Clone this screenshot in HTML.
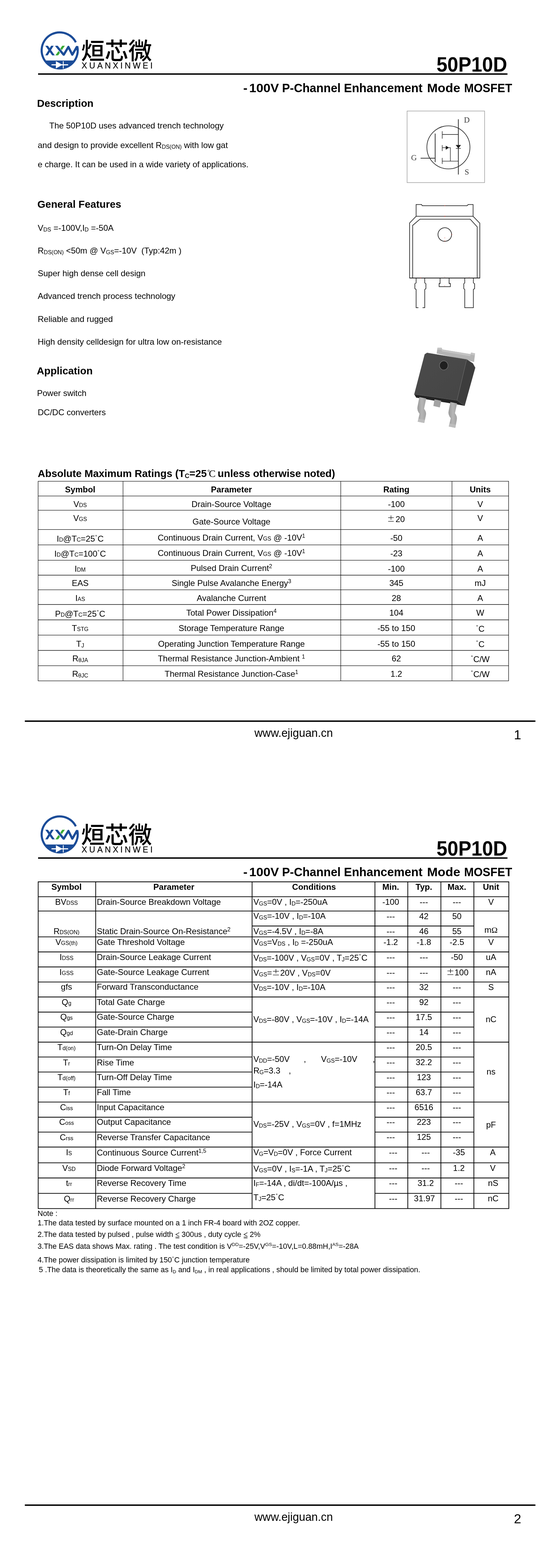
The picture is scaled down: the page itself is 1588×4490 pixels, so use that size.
<!DOCTYPE html>
<html lang="en"><head><meta charset="utf-8"><title>50P10D -100V P-Channel Enhancement Mode MOSFET</title>
<style>
html,body{margin:0;padding:0;background:#fff}
html{width:1588px;height:4490px}
::-webkit-scrollbar{display:none}
body{width:1588px;height:4490px;position:relative;overflow:hidden;font-family:"Liberation Sans",sans-serif;color:#000}
.t{position:absolute;line-height:1;white-space:nowrap}
.b{font-weight:bold}
.ln{position:absolute}
svg{position:absolute;overflow:visible}
.dg{font-size:16px;position:relative;top:-6px;margin:0 1px}
.lo{font-size:16px;position:relative;top:1.5px}
.i{position:static;display:inline-block}
main{position:absolute;left:0;top:0;width:1588px;height:4490px;will-change:transform}
</style></head><body><main>
<svg style="left:110px;top:84px" width="130" height="120" viewBox="0 0 911 841">
<defs><clipPath id="cl0"><rect x="0" y="330" width="911" height="200"/></clipPath></defs>
<path d="M749.4 260.3 A362 362 0 1 0 777.8 337.9" fill="none" stroke="#1b4c98" stroke-width="42"/>
<path d="M136 625 L716 625 A362 362 0 0 1 136 625 Z" fill="#1b4c98"/>
<g clip-path="url(#cl0)">
<polygon points="137,330 190,330 328,522 275,522" fill="#1b4c98"/>
<polygon points="255,330 305,330 187,522 137,522" fill="#1b4c98"/>
<polygon points="478,330 530,330 395,522 340,522" fill="#3aaa35"/>
<path d="M338 310L506 511" fill="none" stroke="#fff" stroke-width="62"/>
</g>
<path d="M352 322L506.7 511 600.6 353 679 510 768 355 787 420" fill="none" stroke="#1b4c98" stroke-width="45" stroke-linejoin="round" clip-path="url(#cl0)"/>
<rect x="262" y="701" width="333" height="22" fill="#fff"/>
<polygon points="350,640 350,785 482,712" fill="#fff"/>
<rect x="490" y="640" width="16" height="145" fill="#fff"/>
</svg>
<svg style="left:0;top:0" width="1" height="1"><text x="232" y="169.9" font-family="'Liberation Sans','Noto Sans CJK SC',sans-serif" font-size="67.6" font-weight="500" fill="#000" textLength="203" lengthAdjust="spacingAndGlyphs">烜芯微</text></svg>
<div class="t" style="left:233.5px;top:177px;font-size:23.5px;letter-spacing:6.02px;-webkit-text-stroke:.3px #000">XUANXINWEI</div>
<div class="ln" style="left:109px;top:210px;width:1343px;height:4px;background:#000"></div>
<div class="t b" style="left:1248.85px;top:156px;font-size:59px;transform-origin:0 0;transform:scaleX(0.9477);">50P10D</div>
<div class="t b" style="left:696.48px;top:235px;font-size:35.5px;transform-origin:0 0;transform:scaleX(1.0200);">-</div>
<div class="t b" style="left:713.45px;top:235px;font-size:35.5px;transform-origin:0 0;transform:scaleX(1.0267);">100V</div>
<div class="t b" style="left:807.19px;top:235px;font-size:35.5px;transform-origin:0 0;transform:scaleX(0.9553);">P-Channel</div>
<div class="t b" style="left:984.07px;top:235px;font-size:35.5px;transform-origin:0 0;transform:scaleX(0.9664);">Enhancement</div>
<div class="t b" style="left:1221.75px;top:235px;font-size:35.5px;transform-origin:0 0;transform:scaleX(1.0240);">Mode</div>
<div class="t b" style="left:1327.74px;top:235px;font-size:35.5px;transform-origin:0 0;transform:scaleX(0.9287);">MOSFET</div>
<div class="t b" style="left:106px;top:281px;font-size:29.36px;">Description</div>
<div class="t" style="left:141px;top:348px;font-size:24px;">The 50P10D uses advanced trench technology</div>
<div class="t" style="left:108px;top:404px;font-size:24px;">and design to provide excellent R<span style="font-size:16px;position:relative;top:1.5px">DS(ON)</span> with low gat</div>
<div class="t" style="left:108px;top:459px;font-size:24px;">e charge. It can be used in a wide variety of applications.</div>
<div class="t b" style="left:107px;top:570px;font-size:29.36px;">General Features</div>
<div class="t" style="left:108px;top:641px;font-size:24px;">V<span style="font-size:16px;position:relative;top:1.5px">DS</span> =-100V,I<span style="font-size:16px;position:relative;top:1.5px">D</span> =-50A</div>
<div class="t" style="left:108px;top:706px;font-size:24px;">R<span style="font-size:16px;position:relative;top:1.5px">DS(ON)</span> &lt;50m @ V<span style="font-size:16px;position:relative;top:1.5px">GS</span>=-10V&nbsp; (Typ:42m )</div>
<div class="t" style="left:108px;top:771px;font-size:24px;">Super high dense cell design</div>
<div class="t" style="left:108px;top:836px;font-size:24px;">Advanced trench process technology</div>
<div class="t" style="left:108px;top:902px;font-size:24px;">Reliable and rugged</div>
<div class="t" style="left:108px;top:967px;font-size:24px;">High density celldesign for ultra low on-resistance</div>
<div class="t b" style="left:105.3px;top:1047px;font-size:29.36px;">Application</div>
<div class="t" style="left:106px;top:1114px;font-size:24px;">Power switch</div>
<div class="t" style="left:108px;top:1169px;font-size:24px;">DC/DC converters</div>
<svg style="left:1160px;top:310px" width="240" height="220" viewBox="0 0 911 835">
<rect x="18" y="30" width="842" height="778" fill="#fff" stroke="#8c8c8c" stroke-width="5"/>
<g fill="none" stroke="#2a2a2a" stroke-width="8">
<circle cx="467" cy="425" r="234" stroke-width="7"/>
<path d="M575 120V720M323 275V585M165 543H323"/>
<path d="M400 250V330M400 400V465M400 540V605M400 285H575M400 575H575M400 428H440M470 428H488V575" stroke-width="6"/>
<path d="M548 437H602" stroke-width="6"/>
</g>
<polygon points="438,407 438,451 474,428" fill="#1a1a1a"/>
<polygon points="546,399 604,399 575,436" fill="#1a1a1a"/>
<g font-family="Liberation Serif,serif" font-size="86" fill="#3a3a3a"><text x="636" y="155">D</text><text x="62" y="565">G</text><text x="643" y="722">S</text></g>
</svg>
<svg style="left:1150px;top:570px" width="250" height="340" viewBox="0 0 911 1239">
<g fill="none" stroke="#1c1c1c" stroke-width="6.5" stroke-linejoin="miter">
<path d="M148 180V57H205L212 70H680L690 57H742V180"/>
<path d="M148 180H742" stroke-width="7"/>
<path d="M148 180L95 235 80 250V824M742 180L800 240 812 252V824"/>
<path d="M112 824V275L188 210H712L785 290V824"/>
<path d="M78 824H815" stroke-width="9"/>
<circle cx="447" cy="370" r="71"/>
<path d="M148 824V874L135 884V934L148 944V1134H172M215 1134H238V944L250 934V884L238 874V824"/>
<path d="M398 824V881H388V914H505V881H492V824"/>
<path d="M655 824V874L645 884V934L655 944V1134H745V944L758 934V884L745 874V824"/>
</g>
<g fill="#c0392b"><circle cx="447" cy="70" r="4"/><circle cx="447" cy="180" r="5"/><circle cx="520" cy="370" r="4"/><circle cx="447" cy="405" r="3"/><circle cx="447" cy="438" r="4"/><circle cx="195" cy="822" r="4"/><circle cx="447" cy="812" r="3"/><circle cx="700" cy="812" r="3"/><circle cx="447" cy="905" r="3"/></g>
</svg>
<svg style="left:1170px;top:980px" width="230" height="260" viewBox="0 0 911 1030">
<defs><linearGradient id="gf" x1="0" y1="0" x2="1" y2="1"><stop offset="0" stop-color="#4b4b4b"/><stop offset="1" stop-color="#454545"/></linearGradient>
<linearGradient id="gl" x1="0" y1="0" x2="1" y2="0"><stop offset="0" stop-color="#9a9a9a"/><stop offset=".5" stop-color="#b6b6b6"/><stop offset="1" stop-color="#a2a2a2"/></linearGradient></defs>
<polygon points="314,128 324,62 370,62 380,82 698,135 705,117 750,127 738,225 650,200" fill="#b3b3b3"/>
<polygon points="324,62 370,62 380,82 698,135 705,117 750,127 747,150 700,140 694,158 376,104 368,84 322,84" fill="#c4c4c4"/>
<polygon points="60,590 545,660 632,722 560,708 82,628" fill="#242424"/>
<path d="M118 622 L196 638 L172 755 Q202 790 192 832 L174 916 L100 901 L120 812 Q88 772 98 728 Z" fill="url(#gl)"/>
<polygon points="290,648 366,664 350,740 277,723" fill="#a3a3a3"/>
<path d="M470 678 L546 694 L522 805 Q552 842 542 885 L526 972 L452 956 L474 862 Q440 822 450 780 Z" fill="url(#gl)"/>
<polygon points="100,901 174,916 180,880 108,866" fill="#bdbdbd"/><polygon points="452,956 526,972 532,936 460,920" fill="#bdbdbd"/>
<polygon points="655,195 725,240 752,290 632,722 545,660" fill="#3d3d3d"/>
<polygon points="205,120 655,195 545,660 60,590 178,138" fill="url(#gf)"/>
<path d="M178 138 L205 120 L655 195 L545 660" fill="none" stroke="#747474" stroke-width="3"/>
<path d="M655 195 L725 240 L752 290" fill="none" stroke="#5e5e5e" stroke-width="3"/>
<path d="M60 590 L545 660 L632 722" fill="none" stroke="#5a5a5a" stroke-width="3"/>
<ellipse cx="395" cy="263" rx="48" ry="51" fill="#202020" stroke="#8e8e8e" stroke-width="4"/>
</svg>
<div class="t b" style="left:108px;top:1341px;font-size:29.36px;">Absolute Maximum Ratings (T<span style="font-size:18px;position:relative;top:3px">C</span>=25<svg class="i" style="vertical-align:-1px;margin:0 5.5px 0 2.6px" width="23" height="22" viewBox="0 0 23 22"><circle cx="2.9" cy="2.9" r="2.3" fill="none" stroke="#000" stroke-width="1"/><text x="3.6" y="21" font-family="Liberation Serif,serif" font-size="29" font-weight="normal">C</text></svg>unless otherwise noted)</div>
<svg style="left:0;top:0" width="1588" height="4490"><path d="M109.1 1378.1L1455.3 1378.1M109.1 1420.3L1455.3 1420.3M109.1 1461.1L1455.3 1461.1M109.1 1516.4L1455.3 1516.4M109.1 1560.4L1455.3 1560.4M109.1 1604.3L1455.3 1604.3M109.1 1647.0L1455.3 1647.0M109.1 1688.8L1455.3 1688.8M109.1 1731.0L1455.3 1731.0M109.1 1775.0L1455.3 1775.0M109.1 1818.6L1455.3 1818.6M109.1 1862.5L1455.3 1862.5M109.1 1906.4L1455.3 1906.4M109.1 1949.6L1455.3 1949.6M109.1 1377.5L109.1 1950.2M352.0 1377.5L352.0 1950.2M975.0 1377.5L975.0 1950.2M1293.3 1377.5L1293.3 1950.2M1455.3 1377.5L1455.3 1950.2" fill="none" stroke="#000" stroke-width="1.3"/></svg>
<div class="t b" style="left:229.4px;transform:translateX(-50%);top:1390px;font-size:24px;">Symbol</div>
<div class="t b" style="left:662.2px;transform:translateX(-50%);top:1390px;font-size:24px;">Parameter</div>
<div class="t b" style="left:1134px;transform:translateX(-50%);top:1390px;font-size:24px;">Rating</div>
<div class="t b" style="left:1374px;transform:translateX(-50%);top:1390px;font-size:24px;">Units</div>
<div class="t" style="left:229.4px;transform:translateX(-50%);top:1432px;font-size:24px;">V<span style="font-size:16px">DS</span></div>
<div class="t" style="left:662.2px;transform:translateX(-50%);top:1432px;font-size:24px;">Drain-Source Voltage</div>
<div class="t" style="left:1134px;transform:translateX(-50%);top:1432px;font-size:24px;">-100</div>
<div class="t" style="left:1374px;transform:translateX(-50%);top:1432px;font-size:24px;">V</div>
<div class="t" style="left:229.4px;transform:translateX(-50%);top:1472px;font-size:24px;">V<span style="font-size:16px">GS</span></div>
<div class="t" style="left:662.2px;transform:translateX(-50%);top:1482px;font-size:24px;">Gate-Source Voltage</div>
<div class="t" style="left:1134px;transform:translateX(-50%);top:1475px;font-size:24px;"><svg class="i" style="vertical-align:1.5px;margin:0 5px 0 1px" width="16" height="18" viewBox="0 0 16 18"><path d="M8 0V12.6M0 6.3H16M0 16.9H16" stroke="#000" stroke-width="1.3" fill="none"/></svg>20</div>
<div class="t" style="left:1374px;transform:translateX(-50%);top:1472px;font-size:24px;">V</div>
<div class="t" style="left:229.4px;transform:translateX(-50%);top:1531px;font-size:24px;">I<span style="font-size:16px">D</span>@T<span style="font-size:16px">C</span>=25<span class="dg">˚</span>C</div>
<div class="t" style="left:662.2px;transform:translateX(-50%);top:1528px;font-size:24px;">Continuous Drain Current, V<span style="font-size:16px">GS</span> @ -10V<span style="font-size:16px;position:relative;top:-8px">1</span></div>
<div class="t" style="left:1134px;transform:translateX(-50%);top:1529px;font-size:24px;">-50</div>
<div class="t" style="left:1374px;transform:translateX(-50%);top:1529px;font-size:24px;">A</div>
<div class="t" style="left:229.4px;transform:translateX(-50%);top:1574px;font-size:24px;">I<span style="font-size:16px">D</span>@T<span style="font-size:16px">C</span>=100<span class="dg">˚</span>C</div>
<div class="t" style="left:662.2px;transform:translateX(-50%);top:1572px;font-size:24px;">Continuous Drain Current, V<span style="font-size:16px">GS</span> @ -10V<span style="font-size:16px;position:relative;top:-8px">1</span></div>
<div class="t" style="left:1134px;transform:translateX(-50%);top:1573px;font-size:24px;">-23</div>
<div class="t" style="left:1374px;transform:translateX(-50%);top:1573px;font-size:24px;">A</div>
<div class="t" style="left:229.4px;transform:translateX(-50%);top:1617px;font-size:24px;">I<span style="font-size:16px">DM</span></div>
<div class="t" style="left:662.2px;transform:translateX(-50%);top:1615px;font-size:24px;">Pulsed Drain Current<span style="font-size:16px;position:relative;top:-8px">2</span></div>
<div class="t" style="left:1134px;transform:translateX(-50%);top:1617px;font-size:24px;">-100</div>
<div class="t" style="left:1374px;transform:translateX(-50%);top:1617px;font-size:24px;">A</div>
<div class="t" style="left:229.4px;transform:translateX(-50%);top:1658px;font-size:24px;">EAS</div>
<div class="t" style="left:662.2px;transform:translateX(-50%);top:1658px;font-size:24px;">Single Pulse Avalanche Energy<span style="font-size:16px;position:relative;top:-8px">3</span></div>
<div class="t" style="left:1134px;transform:translateX(-50%);top:1658px;font-size:24px;">345</div>
<div class="t" style="left:1374px;transform:translateX(-50%);top:1658px;font-size:24px;">mJ</div>
<div class="t" style="left:229.4px;transform:translateX(-50%);top:1701px;font-size:24px;">I<span style="font-size:16px">AS</span></div>
<div class="t" style="left:662.2px;transform:translateX(-50%);top:1701px;font-size:24px;">Avalanche Current</div>
<div class="t" style="left:1134px;transform:translateX(-50%);top:1701px;font-size:24px;">28</div>
<div class="t" style="left:1374px;transform:translateX(-50%);top:1701px;font-size:24px;">A</div>
<div class="t" style="left:229.4px;transform:translateX(-50%);top:1746px;font-size:24px;">P<span style="font-size:16px">D</span>@T<span style="font-size:16px">C</span>=25<span class="dg">˚</span>C</div>
<div class="t" style="left:662.2px;transform:translateX(-50%);top:1743px;font-size:24px;">Total Power Dissipation<span style="font-size:16px;position:relative;top:-8px">4</span></div>
<div class="t" style="left:1134px;transform:translateX(-50%);top:1743px;font-size:24px;">104</div>
<div class="t" style="left:1374px;transform:translateX(-50%);top:1743px;font-size:24px;">W</div>
<div class="t" style="left:229.4px;transform:translateX(-50%);top:1787px;font-size:24px;">T<span style="font-size:16px">STG</span></div>
<div class="t" style="left:662.2px;transform:translateX(-50%);top:1787px;font-size:24px;">Storage Temperature Range</div>
<div class="t" style="left:1134px;transform:translateX(-50%);top:1787px;font-size:24px;">-55 to 150</div>
<div class="t" style="left:1374px;transform:translateX(-50%);top:1789px;font-size:24px;"><span class="dg">˚</span>C</div>
<div class="t" style="left:229.4px;transform:translateX(-50%);top:1832px;font-size:24px;">T<span style="font-size:16px;position:relative;top:2px">J</span></div>
<div class="t" style="left:662.2px;transform:translateX(-50%);top:1832px;font-size:24px;">Operating Junction Temperature Range</div>
<div class="t" style="left:1134px;transform:translateX(-50%);top:1832px;font-size:24px;">-55 to 150</div>
<div class="t" style="left:1374px;transform:translateX(-50%);top:1833px;font-size:24px;"><span class="dg">˚</span>C</div>
<div class="t" style="left:229.4px;transform:translateX(-50%);top:1874px;font-size:24px;">R<span style="font-size:16px;position:relative;top:1.5px">θJA</span></div>
<div class="t" style="left:662.2px;transform:translateX(-50%);top:1874px;font-size:24px;">Thermal Resistance Junction-Ambient <span style="font-size:16px;position:relative;top:-8px">1</span></div>
<div class="t" style="left:1134px;transform:translateX(-50%);top:1874px;font-size:24px;">62</div>
<div class="t" style="left:1374px;transform:translateX(-50%);top:1876px;font-size:24px;"><span class="dg">˚</span>C/W</div>
<div class="t" style="left:229.4px;transform:translateX(-50%);top:1918px;font-size:24px;">R<span style="font-size:16px;position:relative;top:1.5px">θJC</span></div>
<div class="t" style="left:662.2px;transform:translateX(-50%);top:1918px;font-size:24px;">Thermal Resistance Junction-Case<span style="font-size:16px;position:relative;top:-8px">1</span></div>
<div class="t" style="left:1134px;transform:translateX(-50%);top:1918px;font-size:24px;">1.2</div>
<div class="t" style="left:1374px;transform:translateX(-50%);top:1919px;font-size:24px;"><span class="dg">˚</span>C/W</div>
<div class="ln" style="left:71px;top:2063px;width:1461px;height:4px;background:#000"></div>
<div class="t" style="left:728px;top:2083px;font-size:32.3px;">www.ejiguan.cn</div>
<div class="t" style="left:1470.5px;top:2086px;font-size:37.4px;">1</div>
<svg style="left:110px;top:2329px" width="130" height="120" viewBox="0 0 911 841">
<defs><clipPath id="cl2245"><rect x="0" y="330" width="911" height="200"/></clipPath></defs>
<path d="M749.4 260.3 A362 362 0 1 0 777.8 337.9" fill="none" stroke="#1b4c98" stroke-width="42"/>
<path d="M136 625 L716 625 A362 362 0 0 1 136 625 Z" fill="#1b4c98"/>
<g clip-path="url(#cl2245)">
<polygon points="137,330 190,330 328,522 275,522" fill="#1b4c98"/>
<polygon points="255,330 305,330 187,522 137,522" fill="#1b4c98"/>
<polygon points="478,330 530,330 395,522 340,522" fill="#3aaa35"/>
<path d="M338 310L506 511" fill="none" stroke="#fff" stroke-width="62"/>
</g>
<path d="M352 322L506.7 511 600.6 353 679 510 768 355 787 420" fill="none" stroke="#1b4c98" stroke-width="45" stroke-linejoin="round" clip-path="url(#cl2245)"/>
<rect x="262" y="701" width="333" height="22" fill="#fff"/>
<polygon points="350,640 350,785 482,712" fill="#fff"/>
<rect x="490" y="640" width="16" height="145" fill="#fff"/>
</svg>
<svg style="left:0;top:0" width="1" height="1"><text x="232" y="2414.9" font-family="'Liberation Sans','Noto Sans CJK SC',sans-serif" font-size="67.6" font-weight="500" fill="#000" textLength="203" lengthAdjust="spacingAndGlyphs">烜芯微</text></svg>
<div class="t" style="left:233.5px;top:2422px;font-size:23.5px;letter-spacing:6.02px;-webkit-text-stroke:.3px #000">XUANXINWEI</div>
<div class="ln" style="left:109px;top:2455px;width:1343px;height:4px;background:#000"></div>
<div class="t b" style="left:1248.85px;top:2401px;font-size:59px;transform-origin:0 0;transform:scaleX(0.9477);">50P10D</div>
<div class="t b" style="left:696.48px;top:2480px;font-size:35.5px;transform-origin:0 0;transform:scaleX(1.0200);">-</div>
<div class="t b" style="left:713.45px;top:2480px;font-size:35.5px;transform-origin:0 0;transform:scaleX(1.0267);">100V</div>
<div class="t b" style="left:807.19px;top:2480px;font-size:35.5px;transform-origin:0 0;transform:scaleX(0.9553);">P-Channel</div>
<div class="t b" style="left:984.07px;top:2480px;font-size:35.5px;transform-origin:0 0;transform:scaleX(0.9664);">Enhancement</div>
<div class="t b" style="left:1221.75px;top:2480px;font-size:35.5px;transform-origin:0 0;transform:scaleX(1.0240);">Mode</div>
<div class="t b" style="left:1327.74px;top:2480px;font-size:35.5px;transform-origin:0 0;transform:scaleX(0.9287);">MOSFET</div>
<svg style="left:0;top:0" width="1588" height="4490"><path d="M109.3 2525.1L1455.9 2525.1M109.3 2567.8L1455.9 2567.8M109.3 2608.8L1455.9 2608.8M109.3 2682.8L1455.9 2682.8M109.3 2725.9L1455.9 2725.9M109.3 2768.9L1455.9 2768.9M109.3 2812.0L1455.9 2812.0M109.3 2854.9L1455.9 2854.9M109.3 2984.1L1455.9 2984.1M109.3 3155.8L1455.9 3155.8M109.3 3284.6L1455.9 3284.6M109.3 3329.7L1455.9 3329.7M109.3 3373.1L1455.9 3373.1M109.3 3460.8L1455.9 3460.8M721.3 2651.6L1355.9 2651.6M109.3 2898.1L721.3 2898.1M1072.8 2898.1L1355.9 2898.1M109.3 2941.0L721.3 2941.0M1072.8 2941.0L1355.9 2941.0M109.3 3026.8L721.3 3026.8M1072.8 3026.8L1355.9 3026.8M109.3 3069.8L721.3 3069.8M1072.8 3069.8L1355.9 3069.8M109.3 3113.0L721.3 3113.0M1072.8 3113.0L1355.9 3113.0M109.3 3199.1L721.3 3199.1M1072.8 3199.1L1355.9 3199.1M109.3 3241.8L721.3 3241.8M1072.8 3241.8L1355.9 3241.8M109.3 3417.3L721.3 3417.3M1072.8 3417.3L1455.9 3417.3M109.3 2524.1L109.3 3461.8M273.8 2524.1L273.8 3461.8M721.3 2524.1L721.3 3461.8M1072.8 2524.1L1072.8 3461.8M1166.8 2524.1L1166.8 3461.8M1261.5 2524.1L1261.5 3461.8M1355.9 2524.1L1355.9 3461.8M1455.9 2524.1L1455.9 3461.8" fill="none" stroke="#000" stroke-width="2.1"/></svg>
<div class="t b" style="left:190.3px;transform:translateX(-50%);top:2528px;font-size:24px;">Symbol</div>
<div class="t b" style="left:497.5px;transform:translateX(-50%);top:2528px;font-size:24px;">Parameter</div>
<div class="t b" style="left:898.5px;transform:translateX(-50%);top:2528px;font-size:24px;">Conditions</div>
<div class="t b" style="left:1118px;transform:translateX(-50%);top:2528px;font-size:24px;">Min.</div>
<div class="t b" style="left:1212.8px;transform:translateX(-50%);top:2528px;font-size:24px;">Typ.</div>
<div class="t b" style="left:1307.3px;transform:translateX(-50%);top:2528px;font-size:24px;">Max.</div>
<div class="t b" style="left:1405px;transform:translateX(-50%);top:2528px;font-size:24px;">Unit</div>
<div class="t" style="left:190.3px;transform:translateX(-50%);top:2571px;font-size:24px;">BV<span style="font-size:16px">DSS</span></div>
<div class="t" style="left:277px;top:2571px;font-size:24px;">Drain-Source Breakdown Voltage</div>
<div class="t" style="left:1118px;transform:translateX(-50%);top:2571px;font-size:24px;">-100</div>
<div class="t" style="left:1212.8px;transform:translateX(-50%);top:2571px;font-size:24px;">---</div>
<div class="t" style="left:1307.3px;transform:translateX(-50%);top:2571px;font-size:24px;">---</div>
<div class="t" style="left:725px;top:2571px;font-size:24px;">V<span class="lo">GS</span>=0V , I<span class="lo">D</span>=-250uA</div>
<div class="t" style="left:1405px;transform:translateX(-50%);top:2571px;font-size:24px;">V</div>
<div class="t" style="left:1118px;transform:translateX(-50%);top:2612px;font-size:24px;">---</div>
<div class="t" style="left:1212.8px;transform:translateX(-50%);top:2612px;font-size:24px;">42</div>
<div class="t" style="left:1307.3px;transform:translateX(-50%);top:2612px;font-size:24px;">50</div>
<div class="t" style="left:725px;top:2611px;font-size:24px;">V<span class="lo">GS</span>=-10V , I<span class="lo">D</span>=-10A</div>
<div class="t" style="left:190.3px;transform:translateX(-50%);top:2655px;font-size:24px;">R<span style="font-size:16px">DS(ON)</span></div>
<div class="t" style="left:277px;top:2655px;font-size:24px;">Static Drain-Source On-Resistance<span style="font-size:16px;position:relative;top:-8px">2</span></div>
<div class="t" style="left:1118px;transform:translateX(-50%);top:2655px;font-size:24px;">---</div>
<div class="t" style="left:1212.8px;transform:translateX(-50%);top:2655px;font-size:24px;">46</div>
<div class="t" style="left:1307.3px;transform:translateX(-50%);top:2655px;font-size:24px;">55</div>
<div class="t" style="left:725px;top:2655px;font-size:24px;">V<span class="lo">GS</span>=-4.5V , I<span class="lo">D</span>=-8A</div>
<div class="t" style="left:1405px;transform:translateX(-50%);top:2651px;font-size:24px;">m<span style="font-family:Liberation Serif,serif">Ω</span></div>
<div class="t" style="left:190.3px;transform:translateX(-50%);top:2686px;font-size:24px;">V<span style="font-size:16px">GS(th)</span></div>
<div class="t" style="left:277px;top:2686px;font-size:24px;">Gate Threshold Voltage</div>
<div class="t" style="left:1118px;transform:translateX(-50%);top:2686px;font-size:24px;">-1.2</div>
<div class="t" style="left:1212.8px;transform:translateX(-50%);top:2686px;font-size:24px;">-1.8</div>
<div class="t" style="left:1307.3px;transform:translateX(-50%);top:2686px;font-size:24px;">-2.5</div>
<div class="t" style="left:725px;top:2686px;font-size:24px;">V<span class="lo">GS</span>=V<span class="lo">DS</span> , I<span class="lo">D</span> =-250uA</div>
<div class="t" style="left:1405px;transform:translateX(-50%);top:2686px;font-size:24px;">V</div>
<div class="t" style="left:190.3px;transform:translateX(-50%);top:2729px;font-size:24px;">I<span style="font-size:16px">DSS</span></div>
<div class="t" style="left:277px;top:2729px;font-size:24px;">Drain-Source Leakage Current</div>
<div class="t" style="left:1118px;transform:translateX(-50%);top:2729px;font-size:24px;">---</div>
<div class="t" style="left:1212.8px;transform:translateX(-50%);top:2729px;font-size:24px;">---</div>
<div class="t" style="left:1307.3px;transform:translateX(-50%);top:2729px;font-size:24px;">-50</div>
<div class="t" style="left:725px;top:2731px;font-size:24px;">V<span class="lo">DS</span>=-100V , V<span class="lo">GS</span>=0V , T<span class="lo">J</span>=25<span class="dg">˚</span>C</div>
<div class="t" style="left:1405px;transform:translateX(-50%);top:2729px;font-size:24px;">uA</div>
<div class="t" style="left:190.3px;transform:translateX(-50%);top:2772px;font-size:24px;">I<span style="font-size:16px">GSS</span></div>
<div class="t" style="left:277px;top:2772px;font-size:24px;">Gate-Source Leakage Current</div>
<div class="t" style="left:1118px;transform:translateX(-50%);top:2773px;font-size:24px;">---</div>
<div class="t" style="left:1212.8px;transform:translateX(-50%);top:2773px;font-size:24px;">---</div>
<div class="t" style="left:1308.8px;transform:translateX(-50%);top:2773px;font-size:24px;"><svg class="i" style="vertical-align:1.5px;margin:0 3.5px 0 3px" width="17" height="18" viewBox="0 0 16 18" preserveAspectRatio="none"><path d="M8 0V12.6M0 6.3H16M0 16.9H16" stroke="#000" stroke-width="1.3" fill="none"/></svg>100</div>
<div class="t" style="left:725px;top:2774px;font-size:24px;">V<span class="lo">GS</span>=<svg class="i" style="vertical-align:1.5px;margin:0 3.5px 0 3px" width="17" height="18" viewBox="0 0 16 18" preserveAspectRatio="none"><path d="M8 0V12.6M0 6.3H16M0 16.9H16" stroke="#000" stroke-width="1.3" fill="none"/></svg>20V , V<span class="lo">DS</span>=0V</div>
<div class="t" style="left:1405px;transform:translateX(-50%);top:2772px;font-size:24px;">nA</div>
<div class="t" style="left:190.3px;transform:translateX(-50%);top:2814px;font-size:24px;">gfs</div>
<div class="t" style="left:277px;top:2814px;font-size:24px;">Forward Transconductance</div>
<div class="t" style="left:1118px;transform:translateX(-50%);top:2815px;font-size:24px;">---</div>
<div class="t" style="left:1212.8px;transform:translateX(-50%);top:2815px;font-size:24px;">32</div>
<div class="t" style="left:1307.3px;transform:translateX(-50%);top:2815px;font-size:24px;">---</div>
<div class="t" style="left:725px;top:2815px;font-size:24px;">V<span class="lo">DS</span>=-10V , I<span class="lo">D</span>=-10A</div>
<div class="t" style="left:1405px;transform:translateX(-50%);top:2815px;font-size:24px;">S</div>
<div class="t" style="left:190.3px;transform:translateX(-50%);top:2858px;font-size:24px;">Q<span style="font-size:16px">g</span></div>
<div class="t" style="left:277px;top:2858px;font-size:24px;">Total Gate Charge</div>
<div class="t" style="left:1118px;transform:translateX(-50%);top:2858px;font-size:24px;">---</div>
<div class="t" style="left:1212.8px;transform:translateX(-50%);top:2858px;font-size:24px;">92</div>
<div class="t" style="left:1307.3px;transform:translateX(-50%);top:2858px;font-size:24px;">---</div>
<div class="t" style="left:190.3px;transform:translateX(-50%);top:2900px;font-size:24px;">Q<span style="font-size:16px">gs</span></div>
<div class="t" style="left:277px;top:2900px;font-size:24px;">Gate-Source Charge</div>
<div class="t" style="left:1118px;transform:translateX(-50%);top:2901px;font-size:24px;">---</div>
<div class="t" style="left:1212.8px;transform:translateX(-50%);top:2901px;font-size:24px;">17.5</div>
<div class="t" style="left:1307.3px;transform:translateX(-50%);top:2901px;font-size:24px;">---</div>
<div class="t" style="left:725px;top:2907px;font-size:24px;">V<span class="lo">DS</span>=-80V , V<span class="lo">GS</span>=-10V , I<span class="lo">D</span>=-14A</div>
<div class="t" style="left:1405px;transform:translateX(-50%);top:2907px;font-size:24px;">nC</div>
<div class="t" style="left:190.3px;transform:translateX(-50%);top:2944px;font-size:24px;">Q<span style="font-size:16px">gd</span></div>
<div class="t" style="left:277px;top:2944px;font-size:24px;">Gate-Drain Charge</div>
<div class="t" style="left:1118px;transform:translateX(-50%);top:2944px;font-size:24px;">---</div>
<div class="t" style="left:1212.8px;transform:translateX(-50%);top:2944px;font-size:24px;">14</div>
<div class="t" style="left:1307.3px;transform:translateX(-50%);top:2944px;font-size:24px;">---</div>
<div class="t" style="left:190.3px;transform:translateX(-50%);top:2987px;font-size:24px;">T<span style="font-size:16px">d(on)</span></div>
<div class="t" style="left:277px;top:2987px;font-size:24px;">Turn-On Delay Time</div>
<div class="t" style="left:1118px;transform:translateX(-50%);top:2987px;font-size:24px;">---</div>
<div class="t" style="left:1212.8px;transform:translateX(-50%);top:2987px;font-size:24px;">20.5</div>
<div class="t" style="left:1307.3px;transform:translateX(-50%);top:2987px;font-size:24px;">---</div>
<div class="t" style="left:190.3px;transform:translateX(-50%);top:3031px;font-size:24px;">T<span style="font-size:16px">r</span></div>
<div class="t" style="left:277px;top:3031px;font-size:24px;">Rise Time</div>
<div class="t" style="left:1118px;transform:translateX(-50%);top:3030px;font-size:24px;">---</div>
<div class="t" style="left:1212.8px;transform:translateX(-50%);top:3030px;font-size:24px;">32.2</div>
<div class="t" style="left:1307.3px;transform:translateX(-50%);top:3030px;font-size:24px;">---</div>
<div class="t" style="left:190.3px;transform:translateX(-50%);top:3073px;font-size:24px;">T<span style="font-size:16px">d(off)</span></div>
<div class="t" style="left:277px;top:3073px;font-size:24px;">Turn-Off Delay Time</div>
<div class="t" style="left:1118px;transform:translateX(-50%);top:3073px;font-size:24px;">---</div>
<div class="t" style="left:1212.8px;transform:translateX(-50%);top:3073px;font-size:24px;">123</div>
<div class="t" style="left:1307.3px;transform:translateX(-50%);top:3073px;font-size:24px;">---</div>
<div class="t" style="left:190.3px;transform:translateX(-50%);top:3116px;font-size:24px;">T<span style="font-size:16px">f</span></div>
<div class="t" style="left:277px;top:3116px;font-size:24px;">Fall Time</div>
<div class="t" style="left:1118px;transform:translateX(-50%);top:3116px;font-size:24px;">---</div>
<div class="t" style="left:1212.8px;transform:translateX(-50%);top:3116px;font-size:24px;">63.7</div>
<div class="t" style="left:1307.3px;transform:translateX(-50%);top:3116px;font-size:24px;">---</div>
<div class="t" style="left:725px;top:3021px;font-size:24px;">V<span class="lo">DD</span>=-50V</div>
<div class="t" style="left:869px;top:3021px;font-size:24px;">,</div>
<div class="t" style="left:918.5px;top:3021px;font-size:24px;">V<span class="lo">GS</span>=-10V</div>
<div class="t" style="left:1066px;top:3021px;font-size:24px;">,</div>
<div class="t" style="left:725px;top:3054px;font-size:24px;">R<span class="lo">G</span>=3.3</div>
<div class="t" style="left:826px;top:3054px;font-size:24px;">,</div>
<div class="t" style="left:725px;top:3094px;font-size:24px;">I<span class="lo">D</span>=-14A</div>
<div class="t" style="left:1405px;transform:translateX(-50%);top:3057px;font-size:24px;">ns</div>
<div class="t" style="left:190.3px;transform:translateX(-50%);top:3159px;font-size:24px;">C<span style="font-size:16px">iss</span></div>
<div class="t" style="left:277px;top:3159px;font-size:24px;">Input Capacitance</div>
<div class="t" style="left:1118px;transform:translateX(-50%);top:3159px;font-size:24px;">---</div>
<div class="t" style="left:1212.8px;transform:translateX(-50%);top:3159px;font-size:24px;">6516</div>
<div class="t" style="left:1307.3px;transform:translateX(-50%);top:3159px;font-size:24px;">---</div>
<div class="t" style="left:190.3px;transform:translateX(-50%);top:3201px;font-size:24px;">C<span style="font-size:16px">oss</span></div>
<div class="t" style="left:277px;top:3201px;font-size:24px;">Output Capacitance</div>
<div class="t" style="left:1118px;transform:translateX(-50%);top:3201px;font-size:24px;">---</div>
<div class="t" style="left:1212.8px;transform:translateX(-50%);top:3201px;font-size:24px;">223</div>
<div class="t" style="left:1307.3px;transform:translateX(-50%);top:3201px;font-size:24px;">---</div>
<div class="t" style="left:725px;top:3207px;font-size:24px;">V<span class="lo">DS</span>=-25V , V<span class="lo">GS</span>=0V , f=1MHz</div>
<div class="t" style="left:1405px;transform:translateX(-50%);top:3209px;font-size:24px;">pF</div>
<div class="t" style="left:190.3px;transform:translateX(-50%);top:3245px;font-size:24px;">C<span style="font-size:16px">rss</span></div>
<div class="t" style="left:277px;top:3245px;font-size:24px;">Reverse Transfer Capacitance</div>
<div class="t" style="left:1118px;transform:translateX(-50%);top:3244px;font-size:24px;">---</div>
<div class="t" style="left:1212.8px;transform:translateX(-50%);top:3244px;font-size:24px;">125</div>
<div class="t" style="left:1307.3px;transform:translateX(-50%);top:3244px;font-size:24px;">---</div>
<div class="t" style="left:197.3px;transform:translateX(-50%);top:3288px;font-size:24px;">I<span style="font-size:16px">S</span></div>
<div class="t" style="left:277px;top:3289px;font-size:24px;">Continuous Source Current<span style="font-size:16px;position:relative;top:-8px">1,5</span></div>
<div class="t" style="left:1125px;transform:translateX(-50%);top:3288px;font-size:24px;">---</div>
<div class="t" style="left:1218px;transform:translateX(-50%);top:3288px;font-size:24px;">---</div>
<div class="t" style="left:1313px;transform:translateX(-50%);top:3288px;font-size:24px;">-35</div>
<div class="t" style="left:725px;top:3288px;font-size:24px;">V<span class="lo">G</span>=V<span class="lo">D</span>=0V , Force Current</div>
<div class="t" style="left:1410px;transform:translateX(-50%);top:3288px;font-size:24px;">A</div>
<div class="t" style="left:197.3px;transform:translateX(-50%);top:3333px;font-size:24px;">V<span style="font-size:16px">SD</span></div>
<div class="t" style="left:277px;top:3333px;font-size:24px;">Diode Forward Voltage<span style="font-size:16px;position:relative;top:-8px">2</span></div>
<div class="t" style="left:1125px;transform:translateX(-50%);top:3333px;font-size:24px;">---</div>
<div class="t" style="left:1218px;transform:translateX(-50%);top:3333px;font-size:24px;">---</div>
<div class="t" style="left:1313px;transform:translateX(-50%);top:3333px;font-size:24px;">1.2</div>
<div class="t" style="left:725px;top:3335px;font-size:24px;">V<span class="lo">GS</span>=0V , I<span class="lo">S</span>=-1A , T<span class="lo">J</span>=25<span class="dg">˚</span>C</div>
<div class="t" style="left:1410px;transform:translateX(-50%);top:3333px;font-size:24px;">V</div>
<div class="t" style="left:197.3px;transform:translateX(-50%);top:3376px;font-size:24px;">t<span style="font-size:16px">rr</span></div>
<div class="t" style="left:277px;top:3376px;font-size:24px;">Reverse Recovery Time</div>
<div class="t" style="left:1125px;transform:translateX(-50%);top:3376px;font-size:24px;">---</div>
<div class="t" style="left:1218px;transform:translateX(-50%);top:3376px;font-size:24px;">31.2</div>
<div class="t" style="left:1313px;transform:translateX(-50%);top:3376px;font-size:24px;">---</div>
<div class="t" style="left:725px;top:3376px;font-size:24px;">I<span class="lo">F</span>=-14A , di/dt=-100A/µs ,</div>
<div class="t" style="left:1411px;transform:translateX(-50%);top:3376px;font-size:24px;">nS</div>
<div class="t" style="left:197.3px;transform:translateX(-50%);top:3421px;font-size:24px;">Q<span style="font-size:16px">rr</span></div>
<div class="t" style="left:277px;top:3421px;font-size:24px;">Reverse Recovery Charge</div>
<div class="t" style="left:1125px;transform:translateX(-50%);top:3420px;font-size:24px;">---</div>
<div class="t" style="left:1214.4px;transform:translateX(-50%);top:3420px;font-size:24px;">31.97</div>
<div class="t" style="left:1313px;transform:translateX(-50%);top:3420px;font-size:24px;">---</div>
<div class="t" style="left:725px;top:3417px;font-size:24px;">T<span class="lo">J</span>=25<span class="dg">˚</span>C</div>
<div class="t" style="left:1411px;transform:translateX(-50%);top:3420px;font-size:24px;">nC</div>
<div class="t" style="left:107.5px;top:3465px;font-size:21.35px;">Note :</div>
<div class="t" style="left:107.5px;top:3492px;font-size:21.35px;">1.The data tested by surface mounted on a 1 inch FR-4 board with 2OZ copper.</div>
<div class="t" style="left:107.5px;top:3525px;font-size:21.35px;">2.The data tested by pulsed , pulse width <svg class="i" style="vertical-align:-3.5px;margin:0 .4px" width="11.4" height="17" viewBox="0 0 12 17" preserveAspectRatio="none"><path d="M11.5 .6L1 5.9 11.5 11.2M.3 13.4H11.7M.3 16.4H11.7" stroke="#000" stroke-width="1.2" fill="none"/></svg> 300us , duty cycle <svg class="i" style="vertical-align:-3.5px;margin:0 .4px" width="11.4" height="17" viewBox="0 0 12 17" preserveAspectRatio="none"><path d="M11.5 .6L1 5.9 11.5 11.2M.3 13.4H11.7M.3 16.4H11.7" stroke="#000" stroke-width="1.2" fill="none"/></svg> 2%</div>
<div class="t" style="left:107.5px;top:3559px;font-size:21.35px;">3.The EAS data shows Max. rating . The test condition is V<span style="font-size:13.5px;position:relative;top:-8px">DD</span>=-25V,V<span style="font-size:13.5px;position:relative;top:-8px">GS</span>=-10V,L=0.88mH,I<span style="font-size:13.5px;position:relative;top:-8px">AS</span>=-28A</div>
<div class="t" style="left:107.5px;top:3598px;font-size:21.35px;">4.The power dissipation is limited by 150<span class="dg" style="font-size:14px;top:-5px">˚</span>C junction temperature</div>
<div class="t" style="left:111px;top:3626px;font-size:21.35px;">5 .The data is theoretically the same as I<span style="font-size:13.5px;position:relative;top:3px">D</span> and I<span style="font-size:13.5px;position:relative;top:3px">DM</span> , in real applications , should be limited by total power dissipation.</div>
<div class="ln" style="left:71px;top:4308px;width:1461px;height:4px;background:#000"></div>
<div class="t" style="left:728px;top:4328px;font-size:32.3px;">www.ejiguan.cn</div>
<div class="t" style="left:1470.5px;top:4331px;font-size:37.4px;">2</div>
</main></body></html>
